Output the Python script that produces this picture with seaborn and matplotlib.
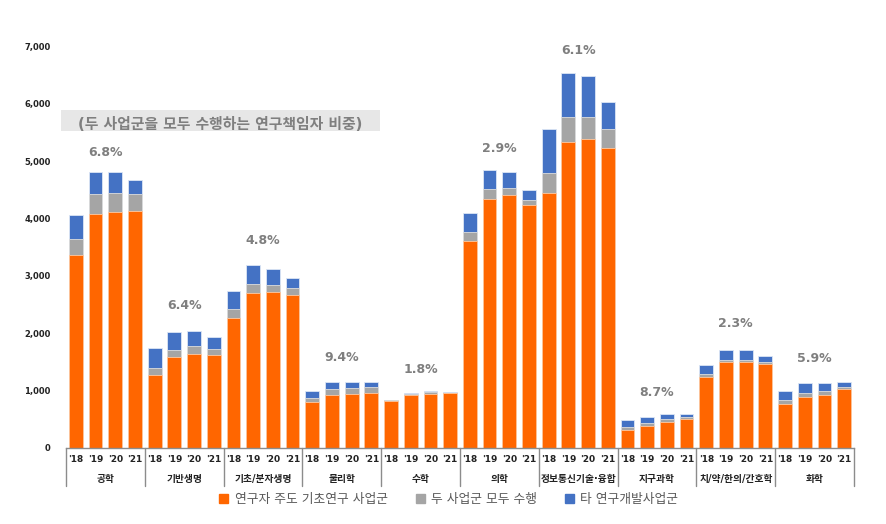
import numpy as np
import pandas as pd
import matplotlib
matplotlib.use("Agg")
import matplotlib.pyplot as plt
from matplotlib.patches import Rectangle, Patch
import seaborn as sns

# ── DATA ─────────────────────────────────────────────
fields = ["공학", "기반생명", "기초/분자생명", "물리학", "수학",
          "의학", "정보통신기술·융합", "지구과학", "치/약/한의/간호학", "화학"]
years = ["'18", "'19", "'20", "'21"]

# 연구자 주도 기초연구 사업군
basic = [3360, 4080, 4110, 4140,
         1275, 1580, 1635, 1610,
         2270, 2695, 2710, 2670,
         790, 920, 945, 955,
         815, 920, 930, 950,
         3610, 4340, 4410, 4235,
         4440, 5340, 5380, 5230,
         315, 385, 450, 500,
         1240, 1490, 1490, 1455,
         770, 885, 920, 1020]
# 두 사업군 모두 수행
both = [275, 345, 330, 290,
        120, 125, 140, 105,
        145, 170, 135, 120,
        75, 105, 105, 110,
        12, 17, 35, 11,
        155, 170, 125, 90,
        355, 435, 390, 325,
        42, 46, 57, 40,
        40, 40, 35, 35,
        62, 70, 70, 40]
# 타 연구개발사업군
other = [435, 390, 365, 240,
         345, 315, 260, 215,
         320, 320, 280, 165,
         125, 115, 105, 90,
         12, 18, 23, 12,
         330, 330, 285, 175,
         770, 760, 720, 475,
         127, 110, 87, 47,
         160, 180, 180, 105,
         150, 175, 145, 90]

pct_labels = ["6.8%", "6.4%", "4.8%", "9.4%", "1.8%",
              "2.9%", "6.1%", "8.7%", "2.3%", "5.9%"]
pct_y = [5150, 2490, 3625, 1570, 1370, 5230, 6940, 965, 2170, 1560]

# ── STYLE ────────────────────────────────────────────
sns.set_style("white")
plt.rcParams["font.family"] = ["DejaVu Sans", "Noto Sans CJK KR"]

c_orange = "#FF6600"
c_gray = "#A5A5A5"
c_blue = "#4472C4"
txt_gray = "#7F7F7F"

slots = [f"{f}_{y}" for f in fields for y in years]
df = pd.DataFrame({"slot": slots, "basic": basic, "both": both, "other": other})
df["cum_both"] = df["basic"] + df["both"]
df["cum_all"] = df["cum_both"] + df["other"]

fig = plt.figure(figsize=(8.87, 5.24), dpi=100)
ax = fig.add_axes([0.0744, 0.1456, 0.8884, 0.7653])
ax.patch.set_alpha(0)

# stacked bars: draw totals first, then cover with lower segments
sns.barplot(data=df, x="slot", y="cum_all", color=c_blue, saturation=1,
            width=0.7, ax=ax, edgecolor="#DCE6F5", linewidth=0.6)
sns.barplot(data=df, x="slot", y="cum_both", color=c_gray, saturation=1,
            width=0.7, ax=ax, edgecolor="#DDDDDD", linewidth=0.6)
sns.barplot(data=df, x="slot", y="basic", color=c_orange, saturation=1,
            width=0.7, ax=ax, edgecolor="#FFC9A0", linewidth=0.6)

ax.set_xlim(-0.5, len(slots) - 0.5)
ax.set_ylim(0, 7000)
ax.set_xlabel("")
ax.set_ylabel("")

ax.set_yticks(range(0, 7001, 1000))
ax.set_yticklabels([f"{v:,}" for v in range(0, 7001, 1000)],
                   fontsize=6, fontweight="bold", color="#222222")
ax.tick_params(axis="y", length=0, pad=11)

ax.set_xticks(range(len(slots)))
ax.set_xticklabels(years * len(fields), fontsize=6.5, fontweight="bold", color="#222222")
ax.tick_params(axis="x", length=0, pad=5)

for s in ["top", "right", "left"]:
    ax.spines[s].set_visible(False)
ax.spines["bottom"].set_color("#8C8C8C")
ax.spines["bottom"].set_linewidth(1)

# group separators and group names
trans = ax.get_xaxis_transform()
for i in range(len(fields) + 1):
    ax.plot([i * 4 - 0.5] * 2, [0, -0.0965], transform=trans,
            color="#8C8C8C", lw=1, clip_on=False)
for i, f in enumerate(fields):
    ax.text(i * 4 + 1.5, -0.078, f, transform=trans, ha="center", va="center",
            fontsize=7, fontweight="bold", color="#222222")

# share labels
for i, (lab, yv) in enumerate(zip(pct_labels, pct_y)):
    ax.text(i * 4 + 1.5, yv, lab, ha="center", va="center",
            fontsize=9, fontweight="bold", color=txt_gray)

# note box
fig.add_artist(Rectangle((61 / 887, 1 - 131 / 524), (380 - 61) / 887, 21 / 524,
                         transform=fig.transFigure, facecolor="#E7E7E7",
                         edgecolor="none", zorder=-1))
ax.set_zorder(1)
fig.text(78 / 887, 1 - 124.5 / 524, "(두 사업군을 모두 수행하는 연구책임자 비중)",
         ha="left", va="center", fontsize=10.7, fontweight="bold", color=txt_gray,
         zorder=2)

# legend
handles = [Patch(color=c_orange, label="연구자 주도 기초연구 사업군"),
           Patch(color=c_gray, label="두 사업군 모두 수행"),
           Patch(color=c_blue, label="타 연구개발사업군")]
leg = fig.legend(handles=handles, loc="center", bbox_to_anchor=(0.506, 0.046),
                 ncol=3, frameon=False, fontsize=9.2, handlelength=0.7,
                 handleheight=0.7, handletextpad=0.5, columnspacing=2.2)
for t in leg.get_texts():
    t.set_color("#595959")

fig.savefig("out.png", dpi=100)
